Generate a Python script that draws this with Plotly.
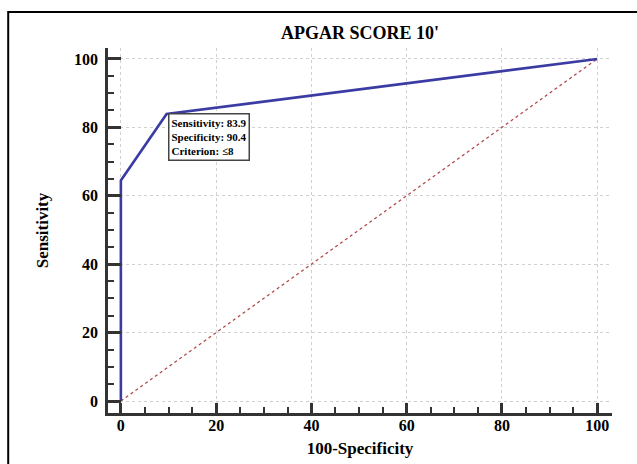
import plotly.graph_objects as go

# ROC curve data
roc_x = [0, 0, 9.6, 100]
roc_y = [0, 64.5, 83.9, 100]
diag_x = [0, 100]
diag_y = [0, 100]
sensitivity = 83.9
specificity = 90.4
criterion = "≤8"
tick_vals = [0, 20, 40, 60, 80, 100]

SERIF = "Liberation Serif"

fig = go.Figure()
fig.add_trace(go.Scatter(x=diag_x, y=diag_y, mode="lines",
                         line=dict(color="#b04848", width=1.3, dash="dot"),
                         hoverinfo="skip", showlegend=False))
fig.add_trace(go.Scatter(x=roc_x, y=roc_y, mode="lines",
                         line=dict(color="#3b3ba3", width=2.6),
                         showlegend=False))

fig.add_annotation(x=roc_x[2], y=roc_y[2], xref="x", yref="y",
                   xanchor="left", yanchor="top", align="left",
                   xshift=1, yshift=1,
                   text=f"Sensitivity: {sensitivity}<br>Specificity: {specificity}<br>Criterion: {criterion}",
                   showarrow=False, bgcolor="white", bordercolor="#444", borderwidth=1.5,
                   borderpad=2,
                   font=dict(family=SERIF, size=11, color="black", weight="bold"))

# outer frame
fig.add_shape(type="rect", xref="paper", yref="paper",
              x0=-0.198, x1=1.3, y0=-0.3, y1=1.0986,
              line=dict(color="black", width=2), fillcolor="rgba(0,0,0,0)", layer="below")

axis_common = dict(
    showline=True, linecolor="#333", linewidth=2.5,
    ticks="inside", tickcolor="#333", tickwidth=2.5,
    tickvals=tick_vals, showgrid=True, gridcolor="#d0d0d0", gridwidth=1, griddash="dot",
    zeroline=False, automargin=False,
    minor=dict(dtick=5, ticks="inside", ticklen=6, tickcolor="#333", tickwidth=1.5, showgrid=False),
    tickfont=dict(family=SERIF, size=16, color="black", weight="bold"),
)

fig.update_xaxes(range=[-2.7, 103.1], ticklen=10, ticklabelstandoff=-4, **axis_common,
                 title=dict(text="100-Specificity", standoff=10,
                            font=dict(family=SERIF, size=17, color="black", weight="bold")))
fig.update_yaxes(range=[-3.5, 103.2], ticklen=13, ticklabelstandoff=4, **axis_common,
                 title=dict(text="Sensitivity", standoff=22,
                            font=dict(family=SERIF, size=17, color="black", weight="bold")))

fig.update_layout(
    width=637, height=464,
    margin=dict(l=108, r=25, t=48, b=51),
    paper_bgcolor="white", plot_bgcolor="white",
    title=dict(text="APGAR SCORE 10'", x=0.5, xref="paper", y=1 - 33 / 464, yanchor="middle",
               font=dict(family=SERIF, size=18, color="black", weight="bold")),
)

fig.write_html("out.html")
